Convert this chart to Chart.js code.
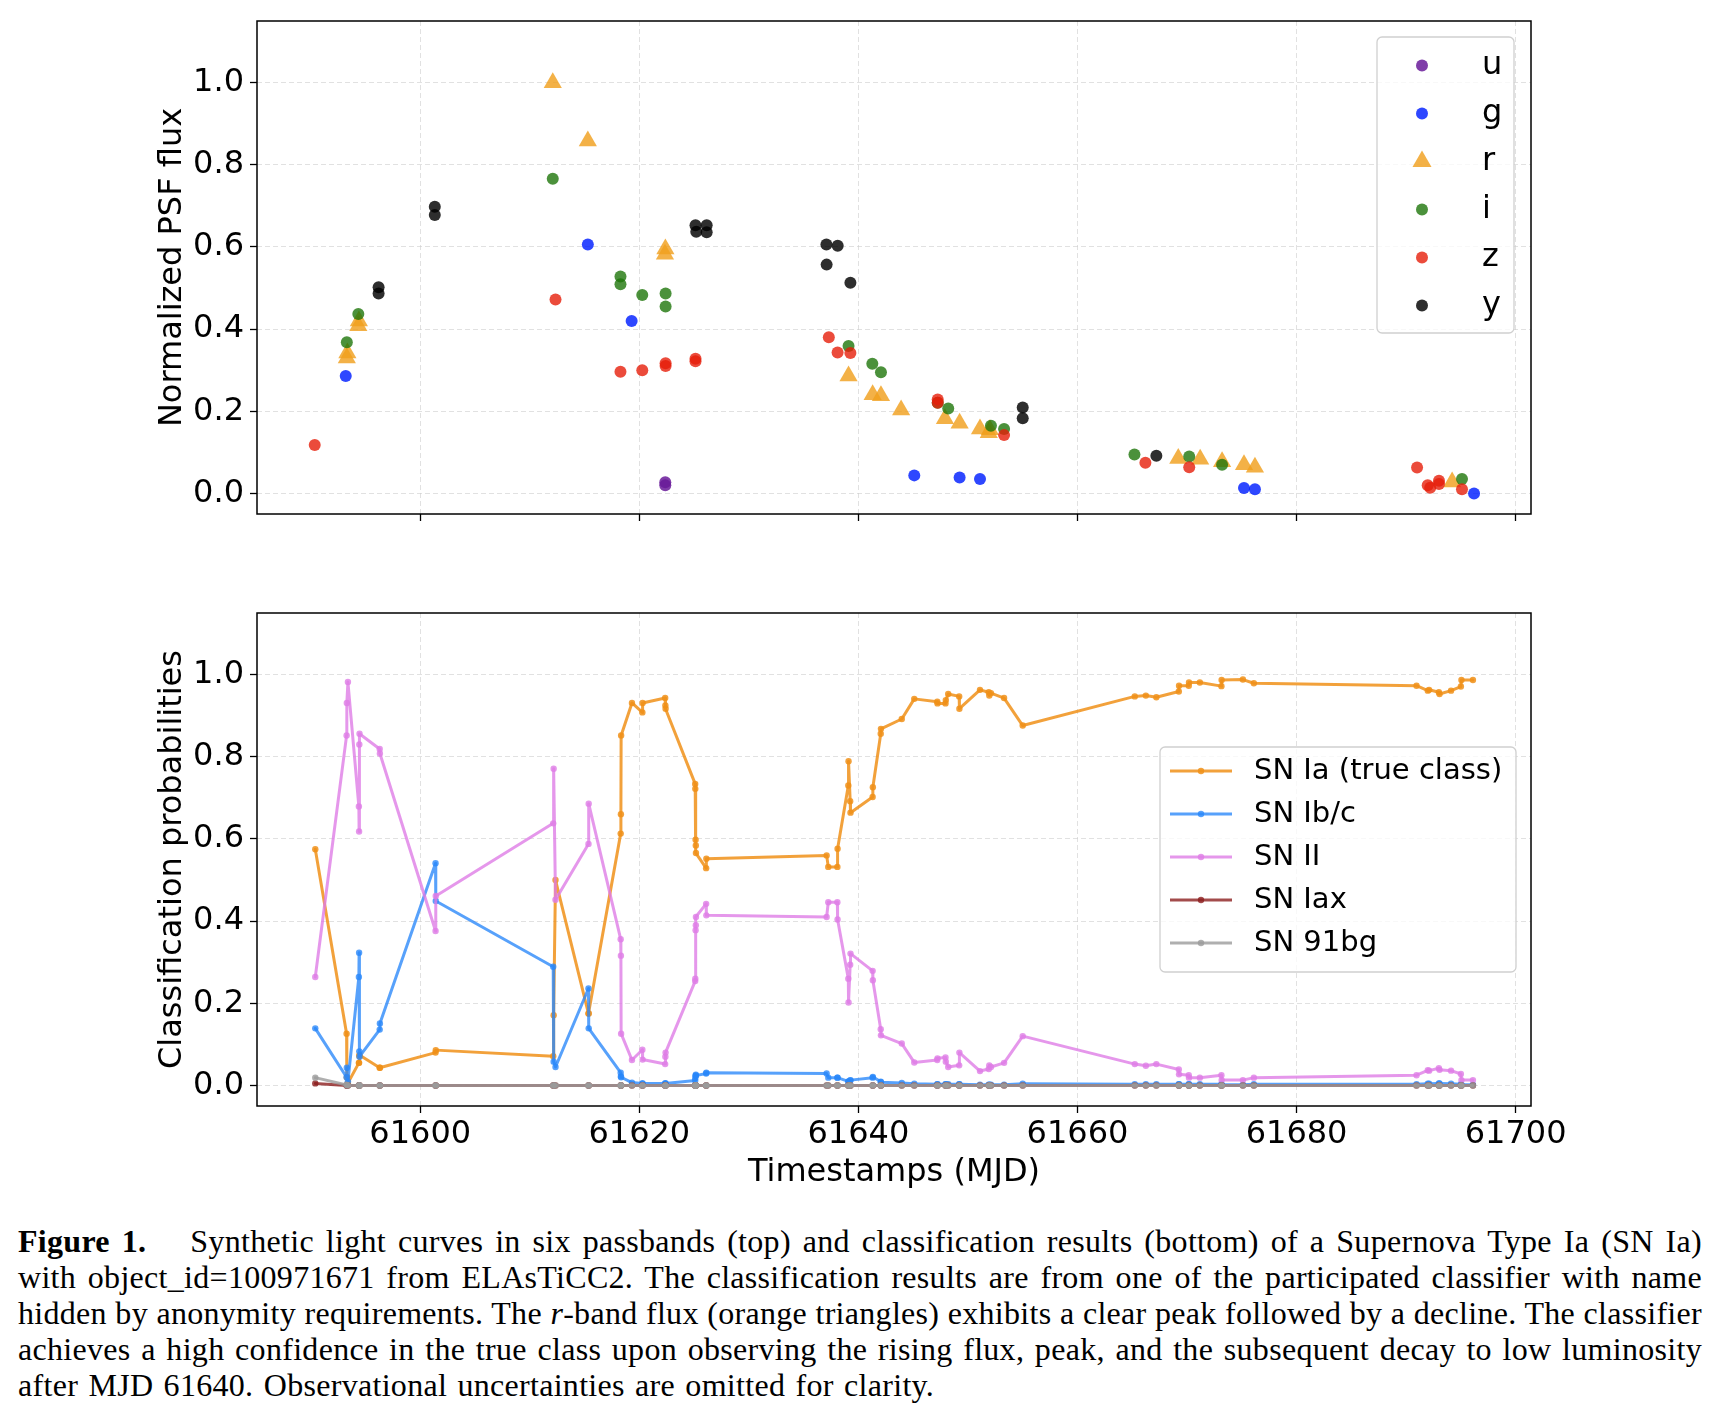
<!DOCTYPE html>
<html>
<head>
<meta charset="utf-8">
<title>ELAsTiCC2 SN Ia: light curves and classification</title>
<script src="https://cdn.jsdelivr.net/npm/chart.js@4.4.1/dist/chart.umd.min.js"></script>
<style>
  html, body { margin: 0; padding: 0; background: #fff; }
  body { width: 1722px; height: 1410px; position: relative; overflow: hidden; }
  #fluxChart { position: absolute; left: 0; top: 0; }
  #probChart { position: absolute; left: 0; top: 590px; }
  #caption {
    position: absolute; left: 18px; top: 1223px; width: 1684px;
    font-family: "Liberation Serif", "DejaVu Serif", serif; font-size: 32px;
    letter-spacing: 0.3px; color: #000;
  }
  #caption .ln { height: 36px; line-height: 36px; text-align: justify; text-align-last: justify; }
  #caption .ln.last { text-align: left; text-align-last: left; word-spacing: 2px; }
  #caption b { margin-right: 32px; }
</style>
</head>
<body>
<canvas id="fluxChart" width="1722" height="545"></canvas>
<canvas id="probChart" width="1722" height="620"></canvas>
<div id="caption">
  <div class="ln"><b>Figure 1.</b> Synthetic light curves in six passbands (top) and classification results (bottom) of a Supernova Type Ia (SN Ia)</div>
  <div class="ln">with object_id=100971671 from ELAsTiCC2. The classification results are from one of the participated classifier with name</div>
  <div class="ln">hidden by anonymity requirements. The <i>r</i>-band flux (orange triangles) exhibits a clear peak followed by a decline. The classifier</div>
  <div class="ln">achieves a high confidence in the true class upon observing the rising flux, peak, and the subsequent decay to low luminosity</div>
  <div class="ln last">after MJD 61640. Observational uncertainties are omitted for clarity.</div>
</div>
<script>
// ---- top panel: normalized PSF flux per passband (MJD, flux) ----
const uMjd  = [61622.37, 61622.37];
const uFlux = [0.027, 0.020];

const gMjd  = [61593.2, 61615.3, 61619.3, 61645.1, 61649.24, 61651.1, 61675.2, 61676.2, 61696.2];
const gFlux = [0.286, 0.606, 0.420, 0.044, 0.039, 0.035, 0.013, 0.010, 0.000];

const rMjd  = [61593.3, 61593.35, 61594.35, 61594.4, 61612.1, 61615.3, 61622.34, 61622.38, 61639.1, 61641.3,
               61642.06, 61643.9, 61647.9, 61649.24, 61651.1, 61651.9, 61652.0, 61669.2, 61671.2, 61673.2,
               61675.2, 61676.2, 61694.2];
const rFlux = [0.330, 0.342, 0.408, 0.420, 1.000, 0.858, 0.582, 0.595, 0.286, 0.240,
               0.238, 0.203, 0.182, 0.171, 0.157, 0.148, 0.155, 0.085, 0.083, 0.077,
               0.070, 0.064, 0.028];

const iMjd  = [61593.3, 61594.35, 61612.1, 61618.28, 61618.28, 61620.27, 61622.4, 61622.4, 61639.1, 61641.27,
               61642.06, 61647.24, 61648.2, 61652.1, 61653.3, 61665.2, 61670.2, 61673.2, 61695.1];
const iFlux = [0.368, 0.437, 0.766, 0.528, 0.509, 0.483, 0.487, 0.455, 0.359, 0.316,
               0.295, 0.221, 0.207, 0.165, 0.157, 0.095, 0.090, 0.070, 0.035];

const zMjd  = [61590.37, 61612.35, 61618.28, 61620.27, 61622.4, 61622.4, 61625.13, 61625.13, 61637.3, 61638.1,
               61639.27, 61647.24, 61647.24, 61653.3, 61666.2, 61670.2, 61691.0, 61691.97, 61692.2, 61693.0,
               61693.0, 61695.1];
const zFlux = [0.118, 0.472, 0.296, 0.300, 0.317, 0.310, 0.328, 0.322, 0.380, 0.343,
               0.342, 0.229, 0.221, 0.142, 0.075, 0.064, 0.063, 0.020, 0.014, 0.031,
               0.023, 0.010];

const yMjd  = [61596.2, 61596.2, 61601.33, 61601.33, 61625.13, 61625.2, 61626.15, 61626.15, 61637.08, 61638.11,
               61637.1, 61639.27, 61655.0, 61655.0, 61667.2];
const yFlux = [0.502, 0.487, 0.698, 0.678, 0.653, 0.637, 0.653, 0.636, 0.606, 0.603,
               0.557, 0.513, 0.209, 0.183, 0.092];

// ---- bottom panel: classification probabilities at each alert ----
const probTimes = [
  61590.42, 61593.28, 61593.30, 61593.40, 61594.40, 61594.42, 61594.44, 61594.46, 61596.30, 61596.32,
  61601.40, 61601.42, 61612.14, 61612.18, 61612.35, 61615.36, 61615.38, 61618.30, 61618.32, 61618.34,
  61619.33, 61620.28, 61620.30, 61622.36, 61622.38, 61622.40, 61625.10, 61625.11, 61625.14, 61625.16,
  61625.17, 61626.10, 61626.12, 61637.10, 61637.25, 61638.08, 61638.10, 61639.08, 61639.10, 61639.25,
  61639.28, 61641.30, 61641.32, 61642.04, 61642.06, 61643.96, 61645.10, 61647.20, 61647.22, 61647.95,
  61647.98, 61648.20, 61649.20, 61649.22, 61651.10, 61651.90, 61651.95, 61652.10, 61653.30, 61655.00,
  61665.23, 61666.24, 61667.20, 61669.25, 61669.27, 61670.16, 61670.18, 61671.17, 61673.14, 61673.16,
  61675.10, 61676.10, 61690.95, 61691.98, 61692.10, 61692.99, 61693.05, 61694.10, 61695.00, 61695.05,
  61696.10
];
const probIa = [
  0.575, 0.126, 0.020, 0.006, 0.055, 0.055, 0.072, 0.074, 0.043, 0.043,
  0.080, 0.086, 0.071, 0.171, 0.500, 0.175, 0.175, 0.613, 0.660, 0.852,
  0.931, 0.908, 0.931, 0.943, 0.925, 0.917, 0.734, 0.722, 0.598, 0.584,
  0.566, 0.529, 0.552, 0.560, 0.532, 0.532, 0.576, 0.730, 0.789, 0.692,
  0.664, 0.702, 0.726, 0.856, 0.868, 0.892, 0.941, 0.934, 0.930, 0.930,
  0.938, 0.953, 0.947, 0.917, 0.963, 0.957, 0.949, 0.955, 0.943, 0.876,
  0.947, 0.949, 0.945, 0.959, 0.973, 0.973, 0.981, 0.981, 0.972, 0.987,
  0.988, 0.979, 0.973, 0.961, 0.963, 0.957, 0.953, 0.961, 0.971, 0.987,
  0.987
];
const probIbc = [
  0.139, 0.020, 0.043, 0.010, 0.264, 0.323, 0.083, 0.070, 0.136, 0.151,
  0.541, 0.449, 0.289, 0.058, 0.045, 0.236, 0.139, 0.031, 0.022, 0.020,
  0.007, 0.005, 0.005, 0.005, 0.005, 0.005, 0.012, 0.018, 0.024, 0.026,
  0.024, 0.029, 0.031, 0.029, 0.019, 0.019, 0.019, 0.010, 0.009, 0.012,
  0.013, 0.019, 0.021, 0.009, 0.008, 0.006, 0.004, 0.003, 0.003, 0.003,
  0.003, 0.003, 0.003, 0.003, 0.002, 0.002, 0.002, 0.002, 0.002, 0.004,
  0.003, 0.003, 0.003, 0.003, 0.003, 0.003, 0.003, 0.003, 0.003, 0.002,
  0.002, 0.003, 0.003, 0.004, 0.004, 0.005, 0.005, 0.004, 0.003, 0.002,
  0.002
];
const probII = [
  0.264, 0.852, 0.931, 0.982, 0.679, 0.618, 0.830, 0.856, 0.819, 0.808,
  0.376, 0.461, 0.638, 0.771, 0.452, 0.588, 0.686, 0.356, 0.316, 0.126,
  0.062, 0.087, 0.063, 0.052, 0.070, 0.080, 0.254, 0.260, 0.378, 0.390,
  0.410, 0.442, 0.414, 0.410, 0.446, 0.446, 0.404, 0.260, 0.202, 0.294,
  0.321, 0.279, 0.256, 0.137, 0.122, 0.102, 0.056, 0.062, 0.066, 0.068,
  0.058, 0.045, 0.049, 0.080, 0.035, 0.040, 0.049, 0.045, 0.055, 0.120,
  0.052, 0.048, 0.052, 0.039, 0.027, 0.025, 0.019, 0.019, 0.025, 0.013,
  0.013, 0.019, 0.025, 0.037, 0.036, 0.042, 0.038, 0.036, 0.028, 0.013,
  0.013
];
const probIax = [
  0.005, 0, 0, 0, 0, 0, 0, 0, 0, 0,
  0, 0, 0, 0, 0, 0, 0, 0, 0, 0,
  0, 0, 0, 0, 0, 0, 0, 0, 0, 0,
  0, 0, 0, 0, 0, 0, 0, 0, 0, 0,
  0, 0, 0, 0, 0, 0, 0, 0, 0, 0,
  0, 0, 0, 0, 0, 0, 0, 0, 0, 0,
  0, 0, 0, 0, 0, 0, 0, 0, 0, 0,
  0, 0, 0, 0, 0, 0, 0, 0, 0, 0,
  0
];
const prob91bg = [
  0.019, 0.001, 0.001, 0, 0, 0, 0, 0, 0, 0,
  0, 0, 0, 0, 0, 0, 0, 0, 0, 0,
  0, 0, 0, 0, 0, 0, 0, 0, 0, 0,
  0, 0, 0, 0, 0, 0, 0, 0, 0, 0,
  0, 0, 0, 0, 0, 0, 0, 0, 0, 0,
  0, 0, 0, 0, 0, 0, 0, 0, 0, 0,
  0, 0, 0, 0, 0, 0, 0, 0, 0, 0,
  0, 0, 0, 0, 0, 0, 0, 0, 0, 0,
  0
];

// axis ticks shared by both panels
const xTicks = [61600, 61620, 61640, 61660, 61680, 61700];
const yTicks = [0.0, 0.2, 0.4, 0.6, 0.8, 1.0];

const FONT = '"DejaVu Sans", Verdana, sans-serif';
const GRID = 'rgba(205,205,205,0.6)';

function pts(xs, ys) {
  return xs.map((x, i) => ({ x: x, y: ys[i] }));
}

// black box around the plotting area
const framePlugin = {
  id: 'frame',
  afterDraw(chart) {
    const { ctx, chartArea: a } = chart;
    ctx.save();
    ctx.strokeStyle = '#000';
    ctx.lineWidth = 1.5;
    ctx.strokeRect(a.left, a.top, a.right - a.left, a.bottom - a.top);
    ctx.restore();
  }
};

// matplotlib-like legend drawn inside the axes
const insetLegend = {
  id: 'insetLegend',
  afterDatasetsDraw(chart, args, o) {
    if (!o.items) return;
    const { ctx, chartArea: a } = chart;
    const x = a.right - o.right - o.width;
    const y = o.top != null ? a.top + o.top : (a.top + a.bottom - o.height) / 2;
    ctx.save();
    ctx.beginPath();
    ctx.roundRect(x, y, o.width, o.height, 5);
    ctx.fillStyle = 'rgba(255,255,255,0.8)';
    ctx.fill();
    ctx.strokeStyle = '#d0d0d0';
    ctx.lineWidth = 1.3;
    ctx.stroke();
    o.items.forEach((it, i) => {
      const cy = y + o.firstRow + i * o.rowGap;
      if (o.lineFrom != null) {
        ctx.strokeStyle = it.color;
        ctx.lineWidth = 3;
        ctx.beginPath();
        ctx.moveTo(x + o.lineFrom, cy);
        ctx.lineTo(x + o.lineTo, cy);
        ctx.stroke();
      }
      ctx.fillStyle = it.color;
      Chart.helpers.drawPoint(ctx, { pointStyle: it.style, radius: it.radius, rotation: 0, borderWidth: 0 },
        x + o.markerX, cy);
      ctx.fillStyle = '#000';
      ctx.font = o.fontSize + 'px ' + FONT;
      ctx.textAlign = 'left';
      ctx.textBaseline = 'middle';
      ctx.fillText(it.label, x + o.textX, cy);
    });
    ctx.restore();
  }
};

function xScale(withLabels, height) {
  return {
    type: 'linear',
    min: 61585.1,
    max: 61701.4,
    afterBuildTicks: s => { s.ticks = xTicks.map(v => ({ value: v })); },
    afterFit: s => { s.height = height; s.paddingLeft = 0; s.paddingRight = 0; },
    grid: { color: GRID, lineWidth: 1, tickLength: 7, tickColor: '#000', tickWidth: 1.3 },
    border: { display: false, dash: [5, 3] },
    ticks: {
      display: withLabels, padding: 2, color: '#000', autoSkip: false, maxRotation: 0,
      font: { family: FONT, size: 32 },
      callback: v => String(v)
    },
    title: {
      display: withLabels, text: 'Timestamps (MJD)', color: '#000',
      font: { family: FONT, size: 32 }, padding: { top: 0, bottom: 18 }
    }
  };
}

function yScale(titleText) {
  return {
    type: 'linear',
    min: -0.05,
    max: 1.15,
    afterBuildTicks: s => { s.ticks = yTicks.map(v => ({ value: v })); },
    afterFit: s => { s.width = 257; s.paddingTop = 0; s.paddingBottom = 0; },
    grid: { color: GRID, lineWidth: 1, tickLength: 7, tickColor: '#000', tickWidth: 1.3 },
    border: { display: false, dash: [5, 3] },
    ticks: { padding: 6, color: '#000', font: { family: FONT, size: 32 }, callback: v => v.toFixed(1) },
    title: {
      display: true, text: titleText, color: '#000',
      font: { family: FONT, size: 32 }, padding: { top: 153, bottom: 0 }
    }
  };
}

// ---- top chart ----
const bands = [
  { label: 'u', xs: uMjd, ys: uFlux, color: 'rgba(106,27,154,0.85)', style: 'circle', r: 6 },
  { label: 'g', xs: gMjd, ys: gFlux, color: 'rgba(0,30,255,0.82)', style: 'circle', r: 6 },
  { label: 'r', xs: rMjd, ys: rFlux, color: 'rgba(240,160,30,0.82)', style: 'triangle', r: 10.5 },
  { label: 'i', xs: iMjd, ys: iFlux, color: 'rgba(30,118,10,0.8)', style: 'circle', r: 6 },
  { label: 'z', xs: zMjd, ys: zFlux, color: 'rgba(230,30,10,0.8)', style: 'circle', r: 6 },
  { label: 'y', xs: yMjd, ys: yFlux, color: 'rgba(0,0,0,0.82)', style: 'circle', r: 6 }
];

new Chart(document.getElementById('fluxChart'), {
  type: 'scatter',
  data: {
    datasets: bands.map((b, i) => ({
      label: b.label,
      data: pts(b.xs, b.ys),
      order: bands.length - 1 - i,
      pointStyle: b.style,
      pointRadius: b.r,
      pointHoverRadius: b.r,
      backgroundColor: b.color,
      borderWidth: 0,
      pointBorderWidth: 0
    }))
  },
  options: {
    responsive: false,
    devicePixelRatio: 1,
    animation: false,
    layout: { padding: { top: 21, right: 191, left: 0, bottom: 0 } },
    scales: { x: xScale(false, 31), y: yScale('Normalized PSF flux') },
    plugins: {
      legend: { display: false },
      tooltip: { enabled: false },
      insetLegend: {
        right: 17, top: 16, width: 137, height: 296,
        firstRow: 28.5, rowGap: 48, markerX: 45, textX: 105, fontSize: 32,
        items: bands.map(b => ({ label: b.label, color: b.color, style: b.style, radius: b.style === 'triangle' ? 11 : 6 }))
      }
    }
  },
  plugins: [insetLegend, framePlugin]
});

// ---- bottom chart ----
const classes = [
  { label: 'SN Ia (true class)', ys: probIa, color: 'rgba(240,145,25,0.85)' },
  { label: 'SN Ib/c', ys: probIbc, color: 'rgba(40,135,250,0.78)' },
  { label: 'SN II', ys: probII, color: 'rgba(222,125,230,0.8)' },
  { label: 'SN Iax', ys: probIax, color: 'rgba(140,30,30,0.8)' },
  { label: 'SN 91bg', ys: prob91bg, color: 'rgba(155,155,155,0.8)' }
];

new Chart(document.getElementById('probChart'), {
  type: 'line',
  data: {
    datasets: classes.map((c, i) => ({
      label: c.label,
      data: pts(probTimes, c.ys),
      order: classes.length - 1 - i,
      borderColor: c.color,
      backgroundColor: c.color,
      borderWidth: 3,
      borderJoinStyle: 'round',
      borderCapStyle: 'round',
      tension: 0,
      fill: false,
      pointRadius: 3.2,
      pointHoverRadius: 3.2,
      pointBorderWidth: 0,
      pointBackgroundColor: c.color
    }))
  },
  options: {
    responsive: false,
    devicePixelRatio: 1,
    animation: false,
    layout: { padding: { top: 23, right: 191, left: 0, bottom: 0 } },
    scales: { x: xScale(true, 104), y: yScale('Classification probabilities') },
    plugins: {
      legend: { display: false },
      tooltip: { enabled: false },
      insetLegend: {
        right: 15, width: 356, height: 225,
        firstRow: 24, rowGap: 43, lineFrom: 10, lineTo: 72, markerX: 41, textX: 94, fontSize: 29,
        items: classes.map(c => ({ label: c.label, color: c.color, style: 'circle', radius: 3.2 }))
      }
    }
  },
  plugins: [insetLegend, framePlugin]
});
</script>
</body>
</html>
